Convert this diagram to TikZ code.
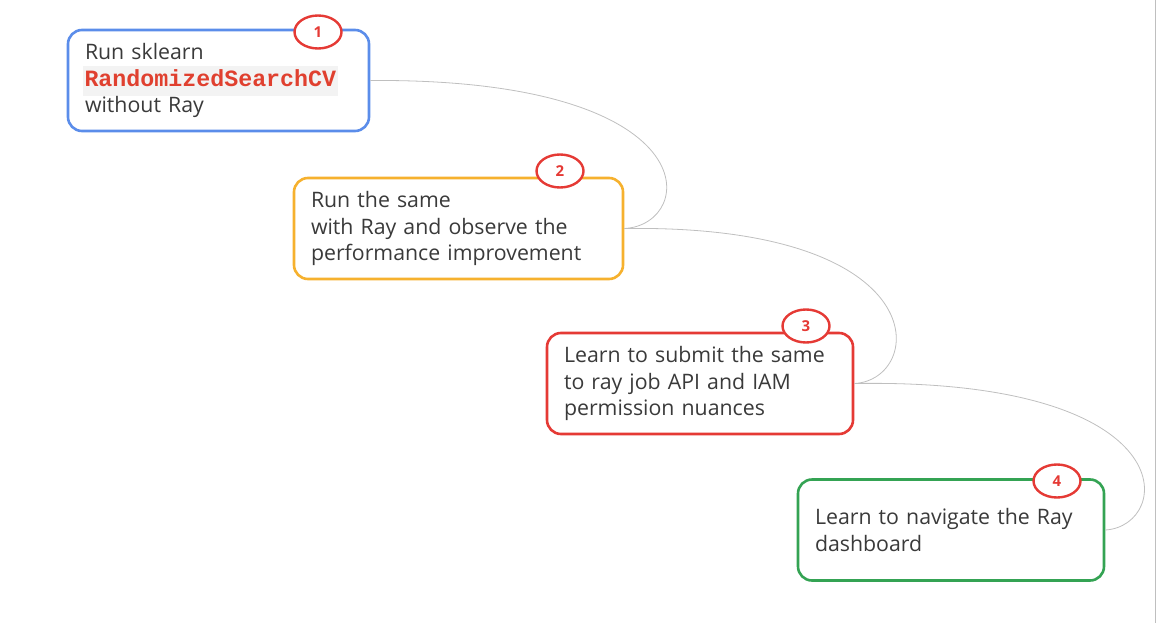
\documentclass[tikz,border=0pt]{standalone}
\usepackage{fontspec}
\setmainfont{Open Sans}
\newfontfamily\codefont{Liberation Mono}
\usetikzlibrary{shapes.geometric}
\definecolor{stepblue}{HTML}{5B8DEA}
\definecolor{steporange}{HTML}{F6B12E}
\definecolor{stepred}{HTML}{E53A35}
\definecolor{stepgreen}{HTML}{34A353}
\definecolor{steptext}{HTML}{3A3A3A}
\definecolor{codered}{HTML}{E0402F}
\definecolor{codebg}{HTML}{F3F3F3}
\begin{document}
\begin{tikzpicture}[x=1pt, y=-1pt,
	stepbox/.style={draw, line width=2.6pt, rounded corners=14pt, fill=white,
		minimum height=101pt, inner xsep=17pt, align=left, text=steptext,
		font=\fontsize{21.3}{26.8}\selectfont},
	badge/.style={ellipse, draw=stepred, line width=2.4pt, fill=white, text=stepred,
		minimum width=47pt, minimum height=33pt, inner sep=0pt,
		font=\fontsize{15}{15}\selectfont\bfseries},
	link/.style={draw=black!25, line width=0.8pt}]
	\useasboundingbox (0,0) rectangle (1158,623);
	\draw[black!25, line width=1pt] (1155,0) -- (1155,623);
	\node[stepbox, draw=stepblue, text width=267pt] (run) at (218.5,80.5)
		{Run sklearn\\
		\hspace*{-2pt}{\fboxsep=1.5pt\colorbox{codebg}{\strut\codefont\fontsize{23.3}{23}\selectfont\bfseries\color{codered}RandomizedSearchCV}}\\
		without Ray};
	\node[stepbox, draw=steporange, text width=295pt] (ray) at (458.5,228.5)
		{Run the same\\with Ray and observe the\\performance improvement};
	\node[stepbox, draw=stepred, text width=272pt] (submit) at (700,383.5)
		{Learn to submit the same\\to ray job API and IAM\\permission nuances};
	\node[stepbox, draw=stepgreen, text width=272pt] (dash) at (951,530)
		{Learn to navigate the Ray\\dashboard};
	\draw[link] (run.east) .. controls (712,78) and (697,225) .. (ray.east);
	\draw[link] (ray.east) .. controls (940,224) and (925,380) .. (submit.east);
	\draw[link] (submit.east) .. controls (1188,378) and (1173,526) .. (dash.east);
	\node[badge] (one) at (318,32) {1};
	\node[badge] (two) at (560,171) {2};
	\node[badge] (three) at (806,326) {3};
	\node[badge] (four) at (1057,481) {4};
\end{tikzpicture}
\end{document}
